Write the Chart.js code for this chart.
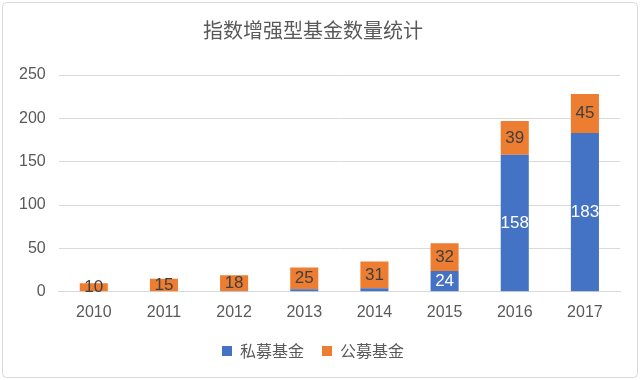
<!DOCTYPE html>
<html><head><meta charset="utf-8">
<script src="https://cdn.jsdelivr.net/npm/chart.js@4/dist/chart.umd.min.js"></script>
<style>html,body{margin:0;padding:0;background:#fff}#w{width:640px;height:380px;position:relative}</style>
</head><body><div id="w"><canvas id="c" width="640" height="380"></canvas></div>
<script>
const categories = ["2010","2011","2012","2013","2014","2015","2016","2017"];
const privateFunds = [0, 0, 1, 3, 4, 24, 158, 183];
const publicFunds = [10, 15, 18, 25, 31, 32, 39, 45];
const seriesNames = ["私募基金", "公募基金"];
const titleText = "指数增强型基金数量统计";
const FONT = "'Noto Sans CJK SC','Liberation Sans',sans-serif";

const frame = {
  id: 'frame',
  beforeDraw(chart) {
    const ctx = chart.ctx;
    ctx.save();
    ctx.fillStyle = '#fff';
    ctx.fillRect(0, 0, chart.width, chart.height);
    ctx.strokeStyle = '#d9d9d9';
    ctx.lineWidth = 1;
    ctx.beginPath();
    ctx.roundRect(2.5, 2.5, chart.width - 5, chart.height - 5, 4);
    ctx.stroke();
    ctx.restore();
  }
};
const labels = {
  id: 'labels',
  afterDatasetsDraw(chart) {
    const ctx = chart.ctx;
    ctx.save();
    ctx.font = "17px 'Liberation Sans', sans-serif";
    ctx.textAlign = 'center';
    ctx.textBaseline = 'middle';
    chart.data.datasets.forEach((ds, di) => {
      const meta = chart.getDatasetMeta(di);
      meta.data.forEach((bar, i) => {
        const v = ds.data[i];
        if (di === 0 && v < 10) return;
        const y = (bar.y + bar.base) / 2;
        ctx.fillStyle = di === 0 ? '#ffffff' : '#404040';
        ctx.fillText(String(v), bar.x, y);
      });
    });
    ctx.restore();
  }
};

new Chart(document.getElementById('c'), {
  type: 'bar',
  data: {
    labels: categories,
    datasets: [
      { label: seriesNames[0], data: privateFunds, backgroundColor: '#4472c4', categoryPercentage: 1, barPercentage: 0.4 },
      { label: seriesNames[1], data: publicFunds, backgroundColor: '#ed7d31', categoryPercentage: 1, barPercentage: 0.4 }
    ]
  },
  options: {
    responsive: false,
    animation: false,
    layout: { padding: { left: 6, right: 20, top: 8, bottom: 11 } },
    plugins: {
      title: { display: true, text: titleText, color: '#595959', font: { family: FONT, size: 20, weight: 'normal' }, padding: { top: 10, bottom: 33 } },
      legend: { position: 'bottom', labels: { color: '#595959', font: { family: FONT, size: 16 }, boxWidth: 10, boxHeight: 10, padding: 18 } },
      tooltip: { enabled: false }
    },
    scales: {
      x: {
        stacked: true,
        grid: { display: false },
        border: { color: '#d9d9d9' },
        ticks: { color: '#595959', font: { family: "'Liberation Sans',sans-serif", size: 16 } }
      },
      y: {
        stacked: true,
        min: 0, max: 250,
        ticks: { stepSize: 50, color: '#595959', font: { family: "'Liberation Sans',sans-serif", size: 16 }, padding: 13 },
        grid: { color: '#d9d9d9', drawTicks: false },
        border: { display: false }
      }
    }
  },
  plugins: [frame, labels]
});
</script></body></html>
